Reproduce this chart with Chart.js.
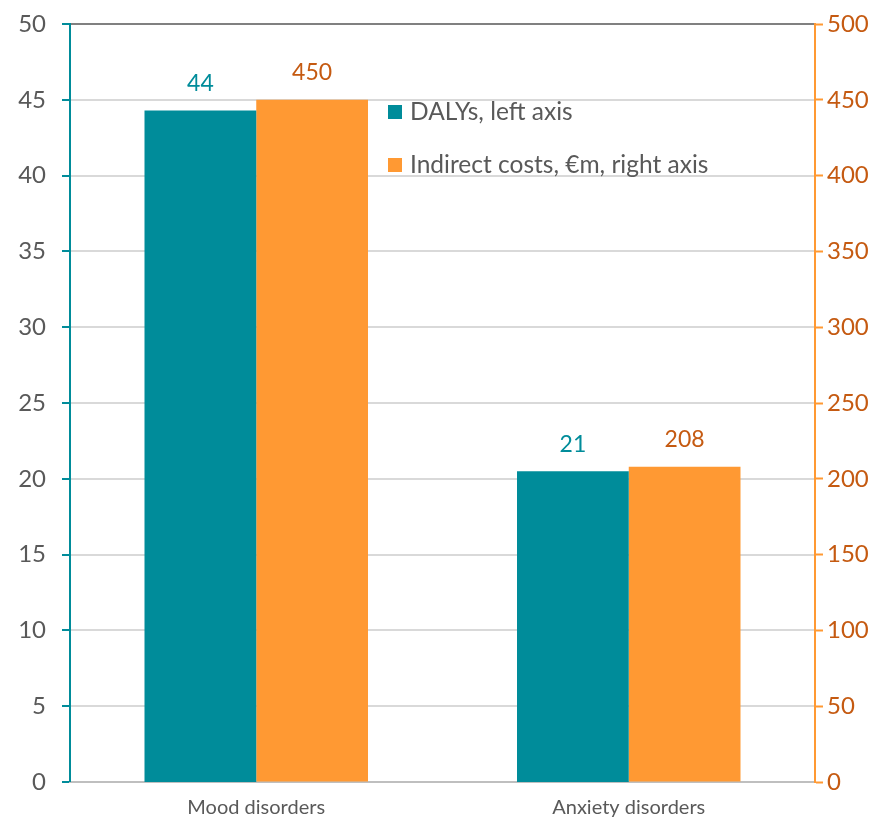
<!DOCTYPE html>
<html><head><meta charset="utf-8">
<script src="https://cdn.jsdelivr.net/npm/chart.js@4/dist/chart.umd.min.js"></script>
<style>html,body{margin:0;padding:0;background:#fff;}#wrap{width:885px;height:819px;}</style>
</head><body><div id="wrap"><canvas id="c" width="885" height="819"></canvas></div>
<script>
const categories = ["Mood disorders", "Anxiety disorders"];
const dalys = [44.3, 20.5];
const indirectCosts = [450, 208];
const leftTicks = [0, 5, 10, 15, 20, 25, 30, 35, 40, 45, 50];
const rightTicks = [0, 50, 100, 150, 200, 250, 300, 350, 400, 450, 500];
const seriesNames = ["DALYs, left axis", "Indirect costs, \u20acm, right axis"];

const TEAL = "#008C9A", ORANGE = "#FF9933", ORANGE_TXT = "#C55A11", GREY_TXT = "#595959";
const FONT = "Lato, 'Open Sans', sans-serif";

const labelPlugin = {
  id: 'labels',
  afterDatasetsDraw(chart) {
    const ctx = chart.ctx;
    ctx.save();
    ctx.font = "23px " + FONT;
    ctx.textAlign = "center";
    ctx.textBaseline = "middle";
    chart.data.datasets.forEach((ds, i) => {
      const meta = chart.getDatasetMeta(i);
      meta.data.forEach((bar, j) => {
        ctx.fillStyle = i === 0 ? TEAL : ORANGE_TXT;
        ctx.fillText(String(Math.round(ds.data[j])), bar.x, bar.y - 27);
      });
    });
    // legend
    const lx = 388, ys = [112, 165];
    ctx.textAlign = "left";
    ctx.font = "24.5px " + FONT;
    [TEAL, ORANGE].forEach((col, i) => {
      ctx.fillStyle = col;
      ctx.fillRect(lx, ys[i] - 7, 14, 14);
      ctx.fillStyle = GREY_TXT;
      ctx.fillText(seriesNames[i], lx + 22, ys[i]);
    });
    ctx.restore();
  }
};

function fixY(width) {
  return function (s) { s.width = width; s.paddingTop = 0; s.paddingBottom = 0; };
}

new Chart(document.getElementById('c'), {
  type: 'bar',
  data: {
    labels: categories,
    datasets: [
      { label: seriesNames[0], data: dalys, backgroundColor: TEAL, yAxisID: 'y', categoryPercentage: 0.6, barPercentage: 1.0 },
      { label: seriesNames[1], data: indirectCosts, backgroundColor: ORANGE, yAxisID: 'y2', categoryPercentage: 0.6, barPercentage: 1.0 }
    ]
  },
  options: {
    responsive: false,
    animation: false,
    layout: { padding: { top: 24, left: 0, right: 0, bottom: 0 } },
    plugins: { legend: { display: false }, tooltip: { enabled: false } },
    scales: {
      x: {
        grid: { display: false },
        border: { color: "#BFBFBF", width: 2 },
        ticks: { color: GREY_TXT, font: { family: FONT, size: 20 }, padding: 6 },
        afterFit(s) { s.height = 37; s.paddingLeft = 0; s.paddingRight = 0; }
      },
      y: {
        position: 'left', min: 0, max: 50,
        afterBuildTicks(s) { s.ticks = leftTicks.map(v => ({ value: v })); },
        grid: {
          color: c => (c.tick && c.tick.value === 50) ? "#808080" : "#D9D9D9",
          lineWidth: c => (c.tick && c.tick.value === 0) ? 0 : 2,
          tickColor: TEAL, tickLength: 8, tickWidth: 2
        },
        border: { color: TEAL, width: 2 },
        ticks: { color: GREY_TXT, font: { family: FONT, size: 24 }, padding: 16 },
        afterFit: fixY(70)
      },
      y2: {
        position: 'right', min: 0, max: 500,
        afterBuildTicks(s) { s.ticks = rightTicks.map(v => ({ value: v })); },
        grid: { drawOnChartArea: false, tickColor: ORANGE, tickLength: 8, tickWidth: 2 },
        border: { color: ORANGE, width: 2 },
        ticks: { color: ORANGE_TXT, font: { family: FONT, size: 24 }, padding: 4 },
        afterFit: fixY(70)
      }
    }
  },
  plugins: [labelPlugin]
});
</script></body></html>
